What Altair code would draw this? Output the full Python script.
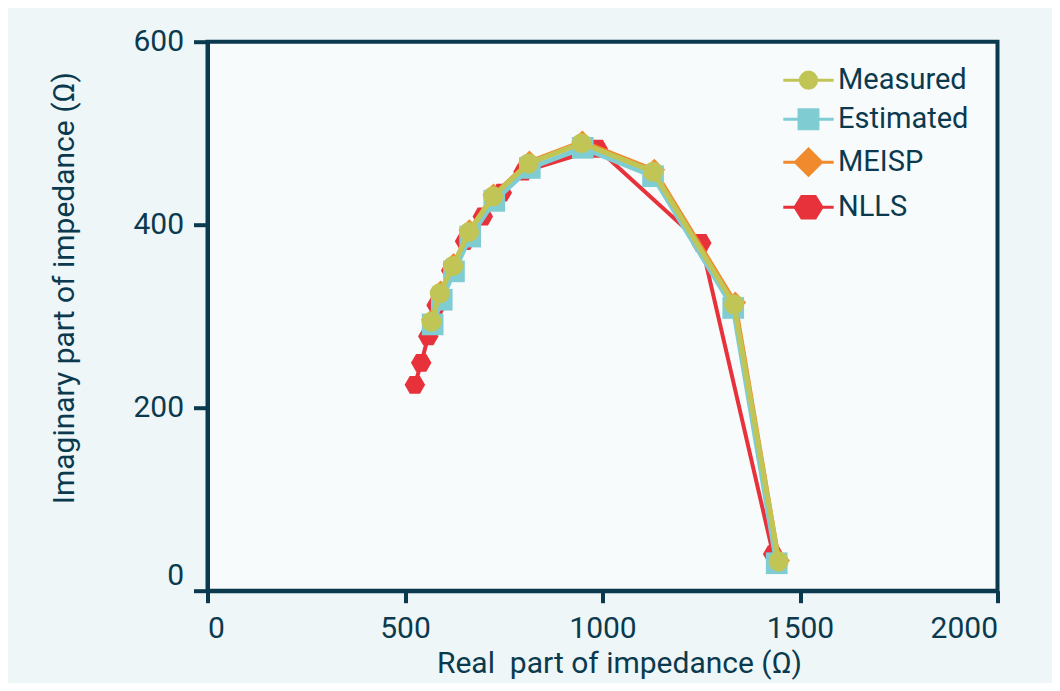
import altair as alt
import pandas as pd

# ---- data ----
series_names = ["Measured", "Estimated", "MEISP", "NLLS"]
series_colors = ["#c1c555", "#80ccd3", "#f08a2c", "#e8323b"]

measured_x = [567, 588, 622, 662, 723, 813, 947, 1128, 1333, 1446]
measured_y = [294, 325, 355, 392, 431, 467, 489, 458, 313, 32]

estimated_x = [570, 593, 624, 665, 726, 816, 950, 1128, 1331, 1441]
estimated_y = [291, 318, 349, 387, 426, 462, 484, 453, 309, 30]

meisp_x = [568, 590, 623, 663, 724, 815, 949, 1131, 1336, 1447]
meisp_y = [296, 327, 357, 394, 433, 469, 491, 460, 315, 33]

nlls_x = [525, 541, 559, 580, 617, 652, 697, 745, 800, 988, 1250, 1432]
nlls_y = [225, 249, 278, 312, 350, 382, 409, 435, 458, 483, 380, 40]

x_ticks = [0, 500, 1000, 1500, 2000]
y_ticks = [0, 200, 400, 600]

INK = "#0b3a4e"
FONT = "Roboto"

HEX = "M-1,0L-0.5,-0.87L0.5,-0.87L1,0L0.5,0.87L-0.5,0.87Z"
marker_shapes = {"Measured": "circle", "Estimated": "square", "MEISP": "diamond", "NLLS": HEX}
marker_sizes = {"Measured": 400, "Estimated": 470, "MEISP": 480, "NLLS": 420}
line_widths = {"Measured": 5, "Estimated": 5, "MEISP": 4, "NLLS": 4}

legend_paths = [
    "M-2.8,0H-0.9M0.9,0H2.8M-0.9,0A0.9,0.9 0 1,0 0.9,0A0.9,0.9 0 1,0 -0.9,0Z",
    "M-2.8,0H-1.05M1.05,0H2.8M-1.05,-1.05H1.05V1.05H-1.05Z",
    "M-2.8,0H-1.45M1.45,0H2.8M-1.45,0L0,-1.45L1.45,0L0,1.45Z",
    "M-2.8,0H-1.5M1.5,0H2.8M-1.5,0L-0.75,-1.2L0.75,-1.2L1.5,0L0.75,1.2L-0.75,1.2Z",
]

data = {
    "Measured": (measured_x, measured_y),
    "Estimated": (estimated_x, estimated_y),
    "MEISP": (meisp_x, meisp_y),
    "NLLS": (nlls_x, nlls_y),
}
color_of = dict(zip(series_names, series_colors))

x_enc = alt.X("x:Q", scale=alt.Scale(domain=[0, 2000], nice=False),
              axis=alt.Axis(values=x_ticks, format="d", title="Real\u00a0 part of impedance (Ω)",
                            tickSize=12, labelPadding=11,
                            titleX=411.5, titleY=82, titleBaseline="alphabetic"))
y_enc = alt.Y("y:Q", scale=alt.Scale(domain=[0, 600], nice=False),
              axis=alt.Axis(values=y_ticks, format="d", title="Imaginary part of impedance (Ω)",
                            tickSize=14, labelPadding=10,
                            labelBaseline={"condition": {"test": "datum.value == 0", "value": "bottom"},
                                           "value": "middle"},
                            titleX=-134.5, titleY=246, titleBaseline="alphabetic"))

layers = []
for name in ["NLLS", "MEISP", "Estimated", "Measured"]:
    xs, ys = data[name]
    df = pd.DataFrame({"x": xs, "y": ys, "i": list(range(len(xs)))})
    base = alt.Chart(df)
    layers.append(base.mark_line(color=color_of[name], strokeWidth=line_widths[name]).encode(
        x=x_enc, y=y_enc, order=alt.Order("i:Q")))
    layers.append(base.mark_point(filled=True, opacity=1, color=color_of[name],
                                  shape=marker_shapes[name], size=marker_sizes[name]).encode(
        x=x_enc, y=y_enc))

legend_props = dict(title=None, orient="none", legendX=586.5, legendY=24,
                    labelFont=FONT, labelFontSize=29, labelColor=INK,
                    labelOffset=15, rowPadding=8, symbolSize=324,
                    symbolStrokeWidth=3, symbolOpacity=1)

# legend-only layer (no visible marks; legend built from explicit scale domains)
leg_df = pd.DataFrame({"series": series_names, "x": [0] * 4, "y": [0] * 4})
legend_layer = alt.Chart(leg_df).transform_filter("false").mark_point(
    filled=True, opacity=1, strokeWidth=3, size=324).encode(
    x=x_enc, y=y_enc,
    fill=alt.Fill("series:N", scale=alt.Scale(domain=series_names, range=series_colors),
                  legend=alt.Legend(**legend_props)),
    stroke=alt.Stroke("series:N", scale=alt.Scale(domain=series_names, range=series_colors),
                      legend=alt.Legend(**legend_props)),
    shape=alt.Shape("series:N", scale=alt.Scale(domain=series_names, range=legend_paths),
                    legend=alt.Legend(**legend_props)),
)

chart = alt.layer(*layers, legend_layer).properties(
    width=790, height=549,
    autosize=alt.AutoSizeParams(type="none"),
    padding={"left": 199.5, "top": 33.7, "right": 54.5, "bottom": 92.3},
    background="#eef6f8",
).configure_view(
    fill="#f8fbfc", stroke=INK, strokeWidth=4,
).configure_axis(
    grid=False, domainColor=INK, domainWidth=4, tickColor=INK, tickWidth=4,
    labelFont=FONT, labelFontSize=30, labelColor=INK,
    titleFont=FONT, titleFontSize=30, titleColor=INK, titleFontWeight="normal",
)

chart.save("out.html", embed_options={"renderer": "svg", "actions": False})
